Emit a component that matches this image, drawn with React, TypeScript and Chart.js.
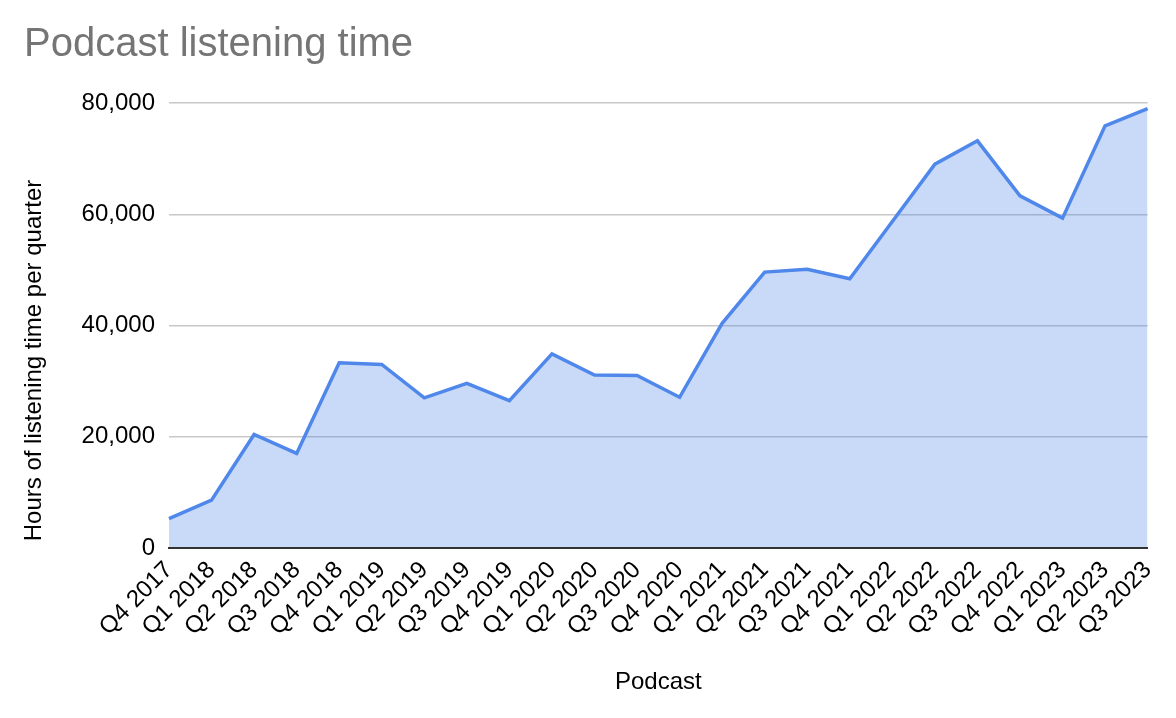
import React, { useEffect, useRef } from "react";
import { Chart, registerables } from "chart.js";

Chart.register(...registerables);

const quarters: string[] = [
  "Q4 2017", "Q1 2018", "Q2 2018", "Q3 2018", "Q4 2018", "Q1 2019", "Q2 2019", "Q3 2019",
  "Q4 2019", "Q1 2020", "Q2 2020", "Q3 2020", "Q4 2020", "Q1 2021", "Q2 2021", "Q3 2021",
  "Q4 2021", "Q1 2022", "Q2 2022", "Q3 2022", "Q4 2022", "Q1 2023", "Q2 2023", "Q3 2023",
];

const listeningHours: number[] = [
  5300, 8600, 20400, 17000, 33300, 33000, 27000, 29600,
  26500, 34900, 31100, 31000, 27100, 40400, 49600, 50100,
  48400, 58700, 69000, 73200, 63300, 59300, 75900, 79000,
];

const yTicks: number[] = [0, 20000, 40000, 60000, 80000];

const chartTitle = "Podcast listening time";
const xTitle = "Podcast";
const yTitle = "Hours of listening time per quarter";

const FONT = "Arial, 'Liberation Sans', Helvetica, sans-serif";

const yTitlePlugin = {
  id: "yTitleCustom",
  afterDraw(chart: any) {
    const { ctx, chartArea } = chart;
    const yScale = chart.scales.y;
    ctx.save();
    ctx.translate(yScale.left + 10, (chartArea.top + chartArea.bottom) / 2 + 35);
    ctx.rotate(-Math.PI / 2);
    ctx.font = `24px ${FONT}`;
    ctx.fillStyle = "#000000";
    ctx.textAlign = "center";
    ctx.textBaseline = "middle";
    ctx.fillText(yTitle, 0, 0);
    ctx.restore();
  },
};

export default function App() {
  const canvasRef = useRef<HTMLCanvasElement | null>(null);

  useEffect(() => {
    if (!canvasRef.current) return;
    const chart = new Chart(canvasRef.current, {
      type: "line",
      data: {
        labels: quarters,
        datasets: [
          {
            label: "Hours",
            data: listeningHours,
            borderColor: "#4f87ea",
            backgroundColor: "rgba(74,134,232,0.3)",
            borderWidth: 3.5,
            fill: "origin",
            pointRadius: 0,
            pointHoverRadius: 0,
            tension: 0,
            borderJoinStyle: "miter",
          },
        ],
      },
      options: {
        animation: false,
        responsive: false,
        devicePixelRatio: 1,
        layout: { padding: { left: 24, right: 28, top: 0, bottom: 0 } },
        plugins: {
          legend: { display: false },
          tooltip: { enabled: false },
          title: {
            display: true,
            text: chartTitle,
            align: "start",
            color: "#757575",
            font: { family: FONT, size: 40, weight: "normal" },
            padding: { top: 21, bottom: 34 },
          },
        },
        scales: {
          x: {
            type: "category",
            offset: false,
            grid: { display: false, drawTicks: false },
            border: { display: true, color: "#333333", width: 2, z: 1 },
            ticks: {
              autoSkip: false,
              maxRotation: 45,
              minRotation: 45,
              color: "#000000",
              padding: 8,
              font: { family: FONT, size: 24 },
            },
            title: {
              display: true,
              text: xTitle,
              color: "#000000",
              font: { family: FONT, size: 24 },
              padding: { top: 0, bottom: 21 },
            },
            afterFit(scale: any) {
              scale.height = 170;
            },
          },
          y: {
            type: "linear",
            min: 0,
            max: 80000,
            afterBuildTicks(scale: any) {
              scale.ticks = yTicks.map((v) => ({ value: v }));
            },
            grid: { color: "#c8c8c8", lineWidth: 1.5, drawTicks: false },
            border: { display: false },
            ticks: {
              color: "#000000",
              padding: 14,
              font: { family: FONT, size: 24 },
              callback: (v: any) => Number(v).toLocaleString("en-US"),
            },
            afterFit(scale: any) {
              scale.width = 145;
            },
          },
        },
      },
      plugins: [yTitlePlugin],
    });
    return () => chart.destroy();
  }, []);

  return (
    <div style={{ position: "fixed", left: 0, top: 0, width: 1176, height: 718, background: "#ffffff" }}>
      <canvas ref={canvasRef} width={1176} height={718} style={{ display: "block", width: 1176, height: 718 }} />
    </div>
  );
}
